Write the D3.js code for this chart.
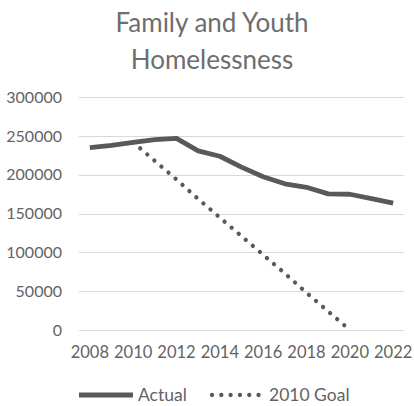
<!DOCTYPE html>
<html>
<head>
<meta charset="utf-8">
<script src="https://cdn.jsdelivr.net/npm/d3@7"></script>
<style>
  html, body { margin: 0; padding: 0; background: #fff; }
  svg { display: block; font-family: Lato, "Open Sans", sans-serif; }
</style>
</head>
<body>
<svg id="chart" width="414" height="406"></svg>
<script>
// Years on the category axis
const years = [2008, 2009, 2010, 2011, 2012, 2013, 2014, 2015, 2016, 2017, 2018, 2019, 2020, 2021, 2022];
// Counted family and youth homelessness
const actual = [235000, 238000, 242000, 245500, 247000, 231000, 224000, 210000, 197500, 188500, 184000, 175500, 175000, 169500, 163500];
// The goal set in 2010: reach zero by 2020
const goalYears = [2010, 2011, 2012, 2013, 2014, 2015, 2016, 2017, 2018, 2019, 2020];
const goal = [242000, 218000, 194000, 169000, 145000, 121000, 97000, 73000, 48000, 24000, 0];
// Axis tick labels
const yTicks = [0, 50000, 100000, 150000, 200000, 250000, 300000];
const xTickLabels = [2008, 2010, 2012, 2014, 2016, 2018, 2020, 2022];
const titleLines = ["Family and Youth", "Homelessness"];
const seriesNames = ["Actual", "2010 Goal"];

const svg = d3.select("#chart");
const plot = { left: 79, right: 404, top: 97.3, bottom: 330 };
const textColor = "#636363";
const lineColor = "#595959";

const x = d3.scaleBand().domain(years).range([plot.left, plot.right]);
const xc = d => x(d) + x.bandwidth() / 2;
const y = d3.scaleLinear().domain([0, 300000]).range([plot.bottom, plot.top]);

// Title
svg.append("g").selectAll("text").data(titleLines).join("text")
  .attr("x", 212).attr("y", (d, i) => 32 + i * 37)
  .attr("text-anchor", "middle")
  .attr("font-size", 26).attr("fill", "#6e6e6e")
  .text(d => d);

// Gridlines
svg.append("g").selectAll("line").data(yTicks).join("line")
  .attr("x1", plot.left).attr("x2", plot.right)
  .attr("y1", d => Math.round(y(d)) + 0.5).attr("y2", d => Math.round(y(d)) + 0.5)
  .attr("stroke", "#d9d9d9").attr("stroke-width", 1);

// Y axis labels
const yAxis = d3.axisLeft(y).tickValues(yTicks).tickFormat(d3.format("d")).tickSize(0).tickPadding(0);
const gy = svg.append("g").attr("transform", "translate(62,0)").call(yAxis);
gy.select(".domain").remove();
gy.selectAll("text").attr("font-size", 16).attr("fill", textColor).attr("font-family", "Lato, sans-serif");

// X axis labels
const xAxis = d3.axisBottom(x).tickValues(xTickLabels).tickSize(0).tickPadding(0);
const gx = svg.append("g").attr("transform", "translate(0,346)").call(xAxis);
gx.select(".domain").remove();
gx.selectAll("text").attr("font-size", 16.5).attr("fill", textColor).attr("font-family", "Lato, sans-serif");

// Series lines
const line = d3.line().x(d => xc(d[0])).y(d => y(d[1]));
svg.append("path")
  .datum(goalYears.map((yr, i) => [yr, goal[i]]))
  .attr("d", line).attr("fill", "none")
  .attr("stroke", lineColor).attr("stroke-width", 4.3)
  .attr("stroke-linecap", "round").attr("stroke-dasharray", "0.01 9.3");
svg.append("path")
  .datum(years.map((yr, i) => [yr, actual[i]]))
  .attr("d", line).attr("fill", "none")
  .attr("stroke", lineColor).attr("stroke-width", 4.8)
  .attr("stroke-linejoin", "round");

// Legend
const legend = svg.append("g").attr("transform", "translate(0,395)");
const lx = [79, 210];
legend.append("line").attr("x1", lx[0]).attr("x2", lx[0] + 54).attr("y1", 0).attr("y2", 0)
  .attr("stroke", lineColor).attr("stroke-width", 4.8);
legend.append("line").attr("x1", lx[1] + 2).attr("x2", lx[1] + 54).attr("y1", 0).attr("y2", 0)
  .attr("stroke", lineColor).attr("stroke-width", 4.3)
  .attr("stroke-linecap", "round").attr("stroke-dasharray", "0.01 9.3");
legend.selectAll("text").data(seriesNames).join("text")
  .attr("x", (d, i) => lx[i] + 59).attr("y", 0).attr("dy", "0.35em")
  .attr("font-size", 17.5).attr("fill", textColor)
  .text(d => d);
</script>
</body>
</html>
